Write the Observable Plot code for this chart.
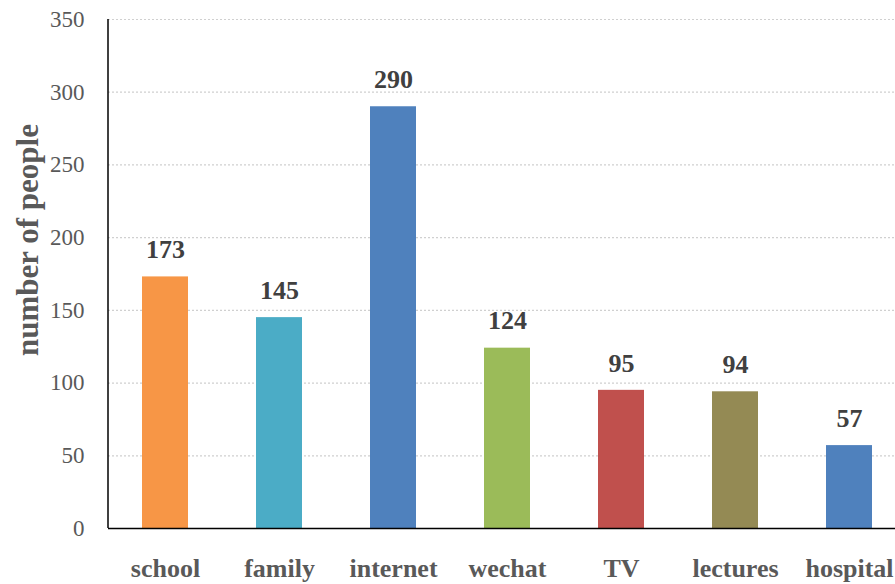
<!DOCTYPE html>
<html><head><meta charset="utf-8">
<script src="https://cdn.jsdelivr.net/npm/d3@7"></script>
<script src="https://cdn.jsdelivr.net/npm/@observablehq/plot@0.6"></script>
<style>body{margin:0;background:#fff;} svg{display:block;} svg text{font-family:'Liberation Serif','Times New Roman',serif !important;}</style>
</head><body><div id="chart"></div>
<script>
const categories = ["school","family","internet","wechat","TV","lectures","hospital"];
const values = [173,145,290,124,95,94,57];
const colors = ["#F79646","#4BACC6","#4F81BD","#9BBB59","#C0504D","#948A54","#4F81BD"];
const yTicks = [0,50,100,150,200,250,300,350];
const data = categories.map((c,i)=>({cat:c, v:values[i], col:colors[i]}));
const font = "'Liberation Serif','Times New Roman',serif";
const chart = Plot.plot({
  width: 895, height: 584,
  marginTop: 19, marginBottom: 56, marginLeft: 108, marginRight: 0,
  style: {fontFamily: font, background: "#fff", overflow: "visible"},
  x: {domain: categories, range: [108, 906], paddingInner: 0.6, paddingOuter: 0.3, axis: null},
  y: {domain: [0, 350], axis: null},
  marks: [
    Plot.ruleY(yTicks.filter(t=>t>0), {stroke: "#d0d0d0", strokeDasharray: "2,2", strokeWidth: 1.2}),
    Plot.barY(data, {x: "cat", y: "v", fill: "col"}),
    Plot.ruleY([0], {stroke: "#000", strokeWidth: 1.5}),
    Plot.text(data, {x: "cat", y: "v", text: d=>String(d.v), dy: -27, fontSize: 26, fontWeight: "bold", fill: "#404040", fontFamily: font}),
    Plot.text(data, {x: "cat", text: "cat", frameAnchor: "bottom", lineAnchor: "middle", dy: 40, fontSize: 26, fontWeight: "bold", fill: "#595959", fontFamily: font}),
    Plot.text(yTicks, {y: d=>d, text: d=>String(d), frameAnchor: "left", dx: -24, textAnchor: "end", fontSize: 23, fill: "#595959", fontFamily: font}),
    Plot.text(["number of people"], {frameAnchor: "left", textAnchor: "middle", dx: -80, dy: -34, rotate: -90, fontSize: 31, fontWeight: "bold", fill: "#595959", fontFamily: font})
  ]
});
document.getElementById("chart").appendChild(chart);
const svg = d3.select(chart);
svg.append("line").attr("x1",108).attr("x2",108).attr("y1",19).attr("y2",528).attr("stroke","#000").attr("stroke-width",1.5);
</script>
</body></html>
